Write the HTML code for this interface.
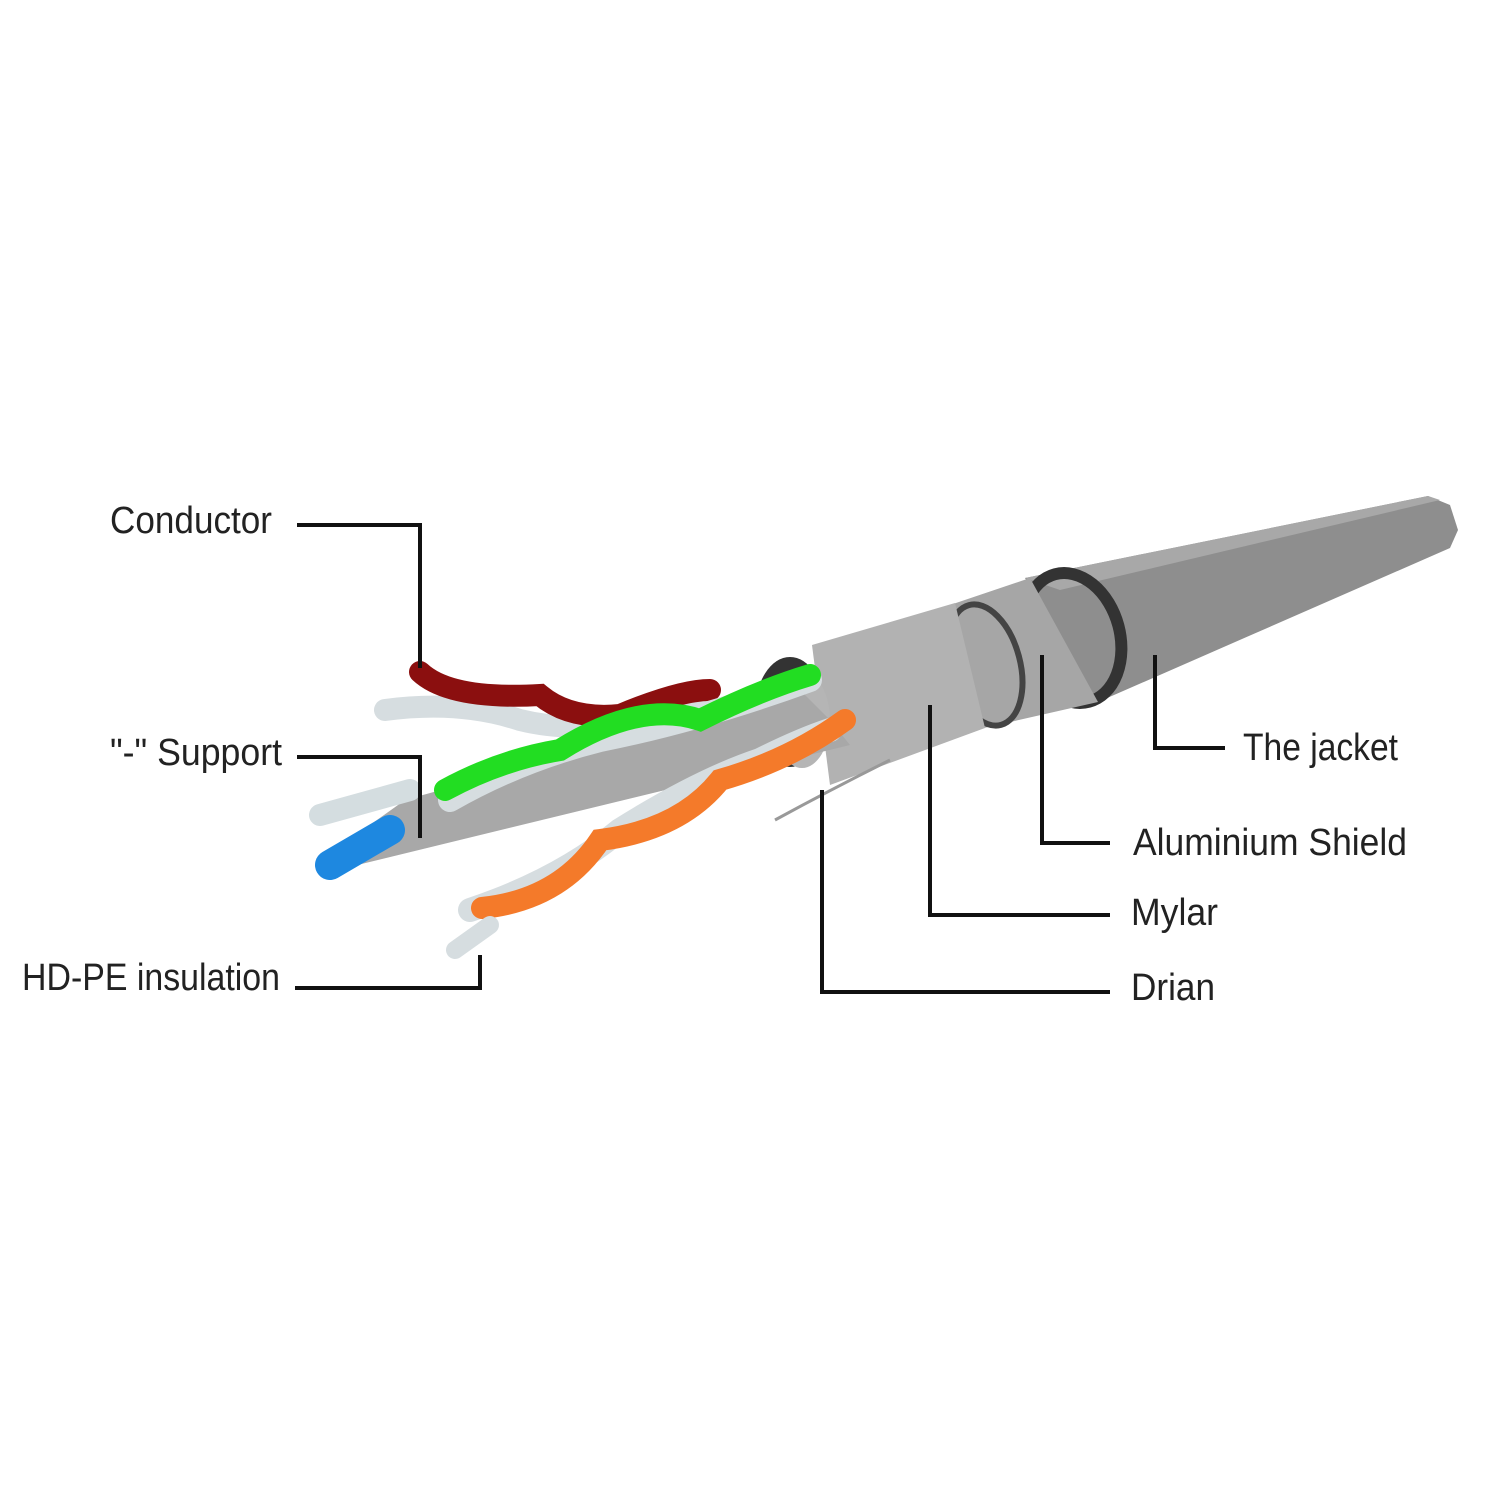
<!DOCTYPE html>
<html><head><style>
html,body{margin:0;padding:0;background:#fff;}
svg{display:block}
text{font-family:"Liberation Sans",sans-serif;font-size:38px;fill:#222;}
</style></head><body>
<svg width="1500" height="1500" viewBox="0 0 1500 1500">
<rect width="1500" height="1500" fill="#fff"/>
<!-- jacket -->
<polygon points="1025,578 1428,496 1450,505 1458,530 1450,548 1098,702" fill="#8e8e8e"/>
<polygon points="1025,578 1428,496 1440,500 1060,590" fill="#a8a8a8"/>
<ellipse cx="1072" cy="638" rx="48" ry="66" transform="rotate(-15 1072 638)" fill="none" stroke="#333" stroke-width="12"/>
<!-- aluminium shield -->
<polygon points="950,605 1030,578 1098,702 975,730" fill="#a6a6a6"/>
<ellipse cx="985" cy="665" rx="35" ry="62" transform="rotate(-15 985 665)" fill="none" stroke="#444" stroke-width="6"/>
<!-- mylar -->
<polygon points="812,645 955,603 985,728 830,785" fill="#b2b2b2"/>
<!-- dark opening -->
<ellipse cx="790" cy="712" rx="35" ry="55" fill="#333"/>
<ellipse cx="802" cy="720" rx="28" ry="48" fill="#b5b5b5"/>
<!-- support bar -->
<polygon points="405,800 800,690 830,720 850,745 345,868 335,850" fill="#a8a8a8"/>
<!-- blue wire -->
<path d="M330,865 L390,830" stroke="#1e88e0" stroke-width="30" stroke-linecap="round"/>
<path d="M320,815 L410,790" stroke="#d4dde0" stroke-width="22" stroke-linecap="round"/>
<!-- red pair -->
<path d="M385,710 Q460,700 520,720 Q600,740 700,700" stroke="#d6dde0" stroke-width="22" fill="none" stroke-linecap="round"/>
<path d="M420,672 Q450,700 540,695 Q570,720 620,715 Q680,690 710,690" stroke="#8b0f0f" stroke-width="22" fill="none" stroke-linecap="round"/>
<!-- green pair -->
<path d="M450,800 Q520,760 600,740 Q700,720 810,680" stroke="#d6dde0" stroke-width="24" fill="none" stroke-linecap="round"/>
<path d="M445,790 Q500,760 560,750 Q640,700 700,720 Q760,690 810,675" stroke="#22dd22" stroke-width="22" fill="none" stroke-linecap="round"/>
<!-- orange pair -->
<path d="M470,910 Q560,880 620,830 Q700,780 760,760 Q800,740 830,730" stroke="#d6dde0" stroke-width="24" fill="none" stroke-linecap="round"/>
<path d="M482,908 Q560,900 600,840 Q680,830 720,780 Q790,760 845,720" stroke="#f47a2a" stroke-width="22" fill="none" stroke-linecap="round"/>
<path d="M455,950 L490,925" stroke="#d6dde0" stroke-width="18" stroke-linecap="round"/>
<!-- drain -->
<path d="M775,820 Q830,790 890,760" stroke="#999" stroke-width="3" fill="none"/>
<!-- leader lines -->
<g fill="none" stroke="#111" stroke-width="4">
<polyline points="297,525 420,525 420,668"/>
<polyline points="297,757 420,757 420,838"/>
<polyline points="295,988 480,988 480,955"/>
<polyline points="1155,655 1155,748 1225,748"/>
<polyline points="1042,655 1042,843 1110,843"/>
<polyline points="930,705 930,915 1110,915"/>
<polyline points="822,790 822,992 1110,992"/>
</g>
<text x="110" y="533" textLength="162" lengthAdjust="spacingAndGlyphs">Conductor</text>
<text x="110" y="765" textLength="172" lengthAdjust="spacingAndGlyphs">"-" Support</text>
<text x="22" y="990" textLength="258" lengthAdjust="spacingAndGlyphs">HD-PE insulation</text>
<text x="1243" y="760" textLength="155" lengthAdjust="spacingAndGlyphs">The jacket</text>
<text x="1133" y="855" textLength="274" lengthAdjust="spacingAndGlyphs">Aluminium Shield</text>
<text x="1131" y="925" textLength="87" lengthAdjust="spacingAndGlyphs">Mylar</text>
<text x="1131" y="1000" textLength="84" lengthAdjust="spacingAndGlyphs">Drian</text>
</svg>
</body></html>
